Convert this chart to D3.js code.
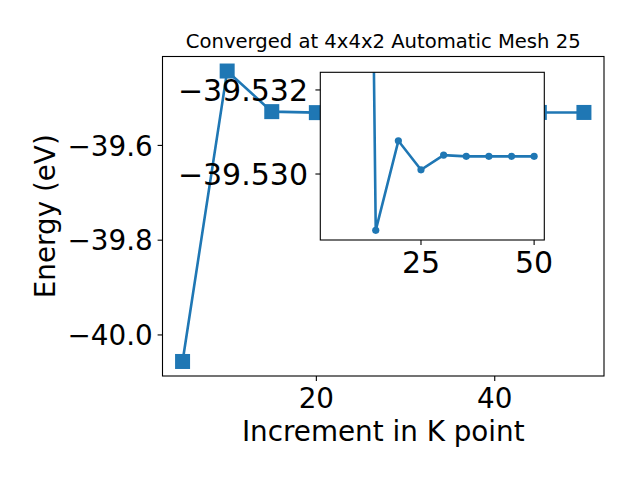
<!DOCTYPE html>
<html>
<head>
<meta charset="utf-8">
<script src="https://cdn.jsdelivr.net/npm/d3@7/dist/d3.min.js"></script>
<style>
  html, body { margin: 0; padding: 0; background: #fff; }
  text { font-family: "DejaVu Sans", sans-serif; fill: #000; }
</style>
</head>
<body>
<script>
// ---- data ----
const kpoints = [5, 10, 15, 20, 25, 30, 35, 40, 45, 50];
const energy = [-40.056, -39.443, -39.5287, -39.5308, -39.5301, -39.53045, -39.53042, -39.53042, -39.53042, -39.53042];
const insetK = [10, 15, 20, 25, 30, 35, 40, 45, 50];
const insetEnergy = [-39.576, -39.52866, -39.53079, -39.5301, -39.53045, -39.53042, -39.53042, -39.53042, -39.53042];
const mainXTicks = [20, 40];
const mainYTicks = [-40.0, -39.8, -39.6];
const insetXTicks = [25, 50];
const insetYTicks = [-39.532, -39.530];
const titleText = "Converged at 4x4x2 Automatic Mesh 25";
const xLabel = "Increment in K point";
const yLabel = "Energy (eV)";

// ---- layout ----
const W = 640, H = 480;
const color = "#1f77b4";
const fs = 27.8;
const fsIns = 30;
const main = {l: 162.5, r: 604, t: 56.5, b: 376};
const ins = {l: 320.3, r: 544.3, t: 72.3, b: 240};

const svg = d3.select("body").append("svg").attr("width", W).attr("height", H);
svg.append("rect").attr("width", W).attr("height", H).attr("fill", "#fff");

const defs = svg.append("defs");
defs.append("clipPath").attr("id", "clipMain").append("rect")
  .attr("x", main.l).attr("y", main.t).attr("width", main.r - main.l).attr("height", main.b - main.t);
defs.append("clipPath").attr("id", "clipIns").append("rect")
  .attr("x", ins.l).attr("y", ins.t).attr("width", ins.r - ins.l).attr("height", ins.b - ins.t);

// main scales
const xExt = d3.extent(kpoints), xPad = (xExt[1] - xExt[0]) * 0.05;
const x = d3.scaleLinear().domain([xExt[0] - xPad, xExt[1] + xPad]).range([main.l, main.r]);
const yExt = d3.extent(energy), yPad = (yExt[1] - yExt[0]) * 0.05;
const y = d3.scaleLinear().domain([yExt[0] - yPad, yExt[1] + yPad]).range([main.b, main.t]);

const fmtTick = v => d3.format(".1f")(v).replace("-", "\u2212");

// main axes
const gMain = svg.append("g");
const pts = kpoints.map((k, i) => [k, energy[i]]);
const gData = gMain.append("g").attr("clip-path", "url(#clipMain)");
gData.append("path").datum(pts)
  .attr("d", d3.line().x(d => x(d[0])).y(d => y(d[1])))
  .attr("fill", "none").attr("stroke", color).attr("stroke-width", 2.6);
const ms = 15;
gData.selectAll("rect.m").data(pts).enter().append("rect")
  .attr("x", d => x(d[0]) - ms / 2).attr("y", d => y(d[1]) - ms / 2)
  .attr("width", ms).attr("height", ms).attr("fill", color);

gMain.append("rect").attr("x", main.l).attr("y", main.t)
  .attr("width", main.r - main.l).attr("height", main.b - main.t)
  .attr("fill", "none").attr("stroke", "#000").attr("stroke-width", 1.1);

// main x ticks
mainXTicks.forEach(v => {
  gMain.append("line").attr("x1", x(v)).attr("x2", x(v)).attr("y1", main.b).attr("y2", main.b + 4.9)
    .attr("stroke", "#000").attr("stroke-width", 1.1);
  gMain.append("text").attr("x", x(v)).attr("y", main.b + 31.5).attr("text-anchor", "middle")
    .style("font-size", fs + "px").text(d3.format("d")(v));
});
// main y ticks
mainYTicks.forEach(v => {
  gMain.append("line").attr("x1", main.l - 4.9).attr("x2", main.l).attr("y1", y(v)).attr("y2", y(v))
    .attr("stroke", "#000").attr("stroke-width", 1.1);
  gMain.append("text").attr("x", main.l - 9.8).attr("y", y(v) + 10.1).attr("text-anchor", "end")
    .style("font-size", fs + "px").text(fmtTick(v));
});

// labels
svg.append("text").attr("x", (main.l + main.r) / 2).attr("y", 441).attr("text-anchor", "middle")
  .style("font-size", fs + "px").text(xLabel);
svg.append("text").attr("transform", `translate(55,${(main.t + main.b) / 2}) rotate(-90)`)
  .attr("text-anchor", "middle").style("font-size", fs + "px").text(yLabel);
svg.append("text").attr("x", (main.l + main.r) / 2).attr("y", 48.3).attr("text-anchor", "middle")
  .style("font-size", "19.6px").text(titleText);

// inset
const xi = d3.scaleLinear().domain(x.domain()).range([ins.l, ins.r]);
const yi = d3.scaleLinear().domain([-39.53242, -39.52843]).range([ins.t, ins.b]);
const gIns = svg.append("g");
gIns.append("rect").attr("x", ins.l).attr("y", ins.t)
  .attr("width", ins.r - ins.l).attr("height", ins.b - ins.t).attr("fill", "#fff");
const ipts = insetK.map((k, i) => [k, insetEnergy[i]]);
const gID = gIns.append("g").attr("clip-path", "url(#clipIns)");
gID.append("path").datum(ipts)
  .attr("d", d3.line().x(d => xi(d[0])).y(d => yi(d[1])))
  .attr("fill", "none").attr("stroke", color).attr("stroke-width", 2.6);
gID.selectAll("circle").data(ipts).enter().append("circle")
  .attr("cx", d => xi(d[0])).attr("cy", d => yi(d[1])).attr("r", 3.6).attr("fill", color);
gIns.append("rect").attr("x", ins.l).attr("y", ins.t)
  .attr("width", ins.r - ins.l).attr("height", ins.b - ins.t)
  .attr("fill", "none").attr("stroke", "#000").attr("stroke-width", 1.1);
insetXTicks.forEach(v => {
  gIns.append("line").attr("x1", xi(v)).attr("x2", xi(v)).attr("y1", ins.b).attr("y2", ins.b + 4.9)
    .attr("stroke", "#000").attr("stroke-width", 1.1);
  gIns.append("text").attr("x", xi(v)).attr("y", ins.b + 32.7).attr("text-anchor", "middle")
    .style("font-size", fsIns + "px").text(d3.format("d")(v));
});
insetYTicks.forEach(v => {
  gIns.append("line").attr("x1", ins.l - 4.9).attr("x2", ins.l).attr("y1", yi(v)).attr("y2", yi(v))
    .attr("stroke", "#000").attr("stroke-width", 1.1);
  gIns.append("text").attr("x", 308).attr("y", yi(v) + 10.9).attr("text-anchor", "end")
    .style("font-size", fsIns + "px").text(d3.format(".3f")(v).replace("-", "\u2212"));
});
</script>
</body>
</html>
